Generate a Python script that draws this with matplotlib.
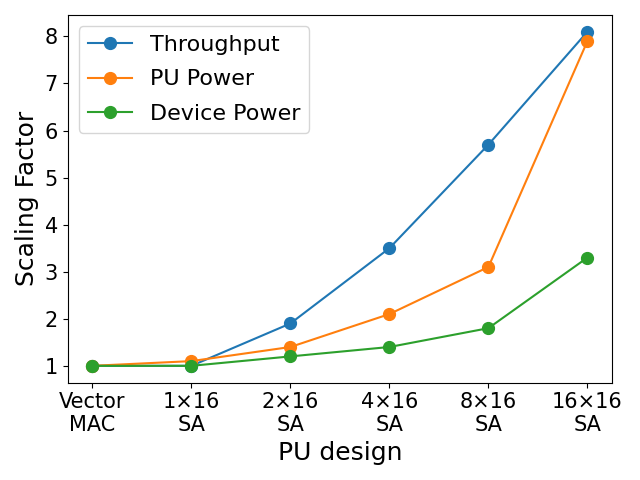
import matplotlib
matplotlib.use("Agg")
import matplotlib.pyplot as plt

designs = ["Vector\nMAC", "1×16\nSA", "2×16\nSA", "4×16\nSA", "8×16\nSA", "16×16\nSA"]
throughput = [1.0, 1.0, 1.9, 3.5, 5.7, 8.1]
pu_power = [1.0, 1.1, 1.4, 2.1, 3.1, 7.9]
device_power = [1.0, 1.0, 1.2, 1.4, 1.8, 3.3]

fig, ax = plt.subplots(figsize=(6.4, 4.8))
x = range(len(designs))
ax.plot(x, throughput, marker="o", markersize=8.5, label="Throughput")
ax.plot(x, pu_power, marker="o", markersize=8.5, label="PU Power")
ax.plot(x, device_power, marker="o", markersize=8.5, label="Device Power")

ax.set_xticks(list(x))
ax.set_xticklabels(designs, fontsize=15)
ax.tick_params(axis="y", labelsize=15)
ax.set_yticks(range(1, 9))
ax.set_xlabel("PU design", fontsize=18)
ax.set_ylabel("Scaling Factor", fontsize=18)
ax.legend(fontsize=16, labelspacing=0.65)

fig.tight_layout()
fig.savefig("out.png", dpi=100)
